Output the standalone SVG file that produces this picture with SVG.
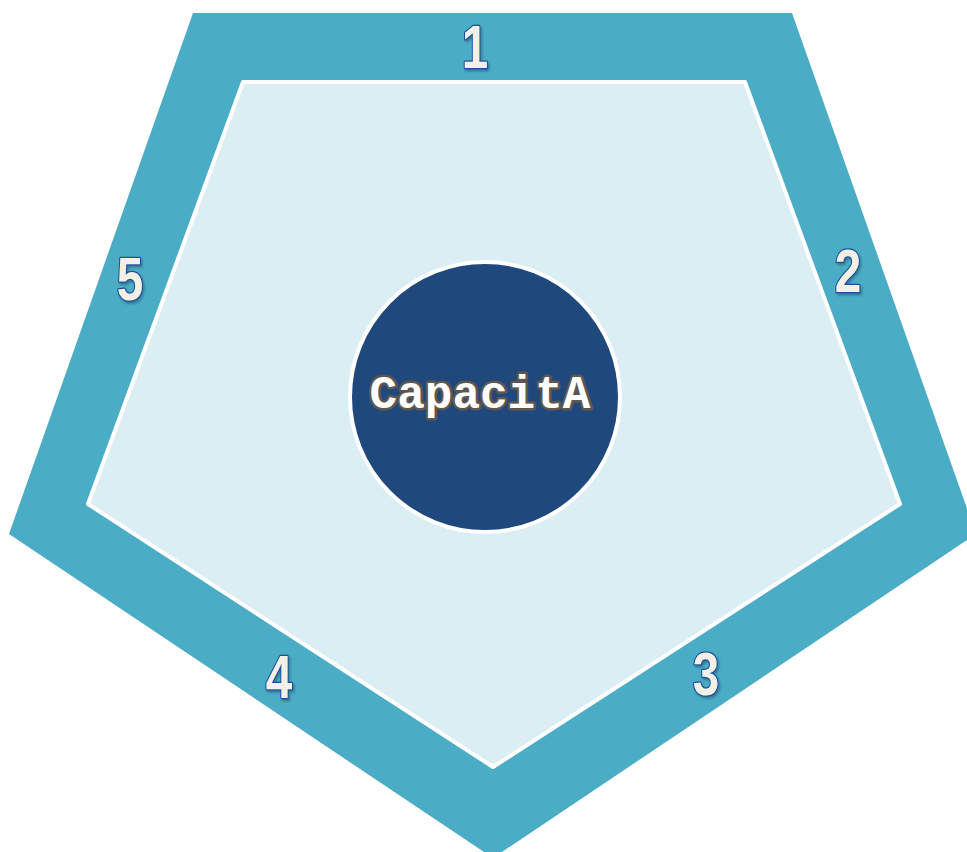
<svg xmlns="http://www.w3.org/2000/svg" width="967" height="852" viewBox="0 0 967 852">
  <defs>
    <style>
      .num { font-family: "Liberation Sans", "Arial", sans-serif; font-weight: bold; font-size: 61px; fill: #F3F1E7; stroke: #1A4F96; stroke-width: 2.5; stroke-linejoin: round; paint-order: stroke; text-anchor: middle; }
      .title { font-family: "Liberation Mono", "Courier New", monospace; font-weight: bold; font-size: 46px; fill: #FFFFFF; stroke: #5E5650; stroke-width: 5; stroke-linejoin: round; paint-order: stroke; text-anchor: middle; }
    </style>
    <filter id="shadow" x="-20%" y="-20%" width="140%" height="140%">
      <feDropShadow dx="1.5" dy="2" stdDeviation="1" flood-color="#1B3550" flood-opacity="0.45"/>
    </filter>
  </defs>

  <rect width="967" height="852" fill="#FFFFFF"/>

  <!-- outer ring band -->
  <g id="outer">
    <polygon points="193,13 792,13 976,534 493,858 9,534" fill="#4BACC6"/>
  </g>

  <!-- inner panel -->
  <g id="inner">
    <polygon points="243,82 745,82 900,504 493,767 88,504" fill="#DAEEF4" stroke="#FFFFFF" stroke-width="4" stroke-linejoin="round"/>
  </g>

  <!-- centre hub -->
  <g id="hub">
    <circle cx="485" cy="397" r="135" fill="#1F497D" stroke="#FFFFFF" stroke-width="4"/>
    <text class="title" x="480" y="408">CapacitA</text>
  </g>

  <!-- side labels (condensed digits) -->
  <g id="label-1" filter="url(#shadow)"><text class="num" transform="translate(475,68) scale(0.78,1)">1</text></g>
  <g id="label-2" filter="url(#shadow)"><text class="num" transform="translate(848,292) scale(0.78,1)">2</text></g>
  <g id="label-3" filter="url(#shadow)"><text class="num" transform="translate(706,695) scale(0.78,1)">3</text></g>
  <g id="label-4" filter="url(#shadow)"><text class="num" transform="translate(279,698) scale(0.78,1)">4</text></g>
  <g id="label-5" filter="url(#shadow)"><text class="num" transform="translate(130,300) scale(0.78,1)">5</text></g>
</svg>
